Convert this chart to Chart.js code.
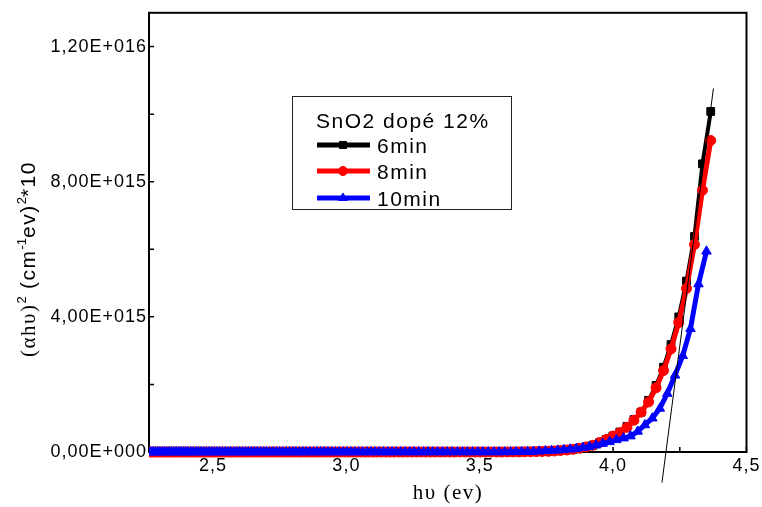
<!DOCTYPE html>
<html>
<head>
<meta charset="utf-8">
<script src="https://cdn.jsdelivr.net/npm/chart.js@4.4.1/dist/chart.umd.min.js"></script>
<style>
html,body{margin:0;padding:0;background:#fff;}
#wrap{position:relative;width:762px;height:507px;}
</style>
</head>
<body>
<div id="wrap"><canvas id="c"></canvas></div>
<script>
// Photon energy (eV) of the measured points, black/red series
const energyA = [
4.366,4.335,4.305,4.275,4.246,4.217,4.189,4.161,4.133,4.105,
4.078,4.052,4.025,3.999,3.974,3.949,3.924,3.899,3.875,3.850,
3.827,3.803,3.780,3.757,3.734,3.712,3.690,3.668,3.647,3.625,
3.604,3.583,3.563,3.542,3.522,3.502,3.483,3.463,3.444,3.425,
3.406,3.388,3.369,3.351,3.333,3.315,3.297,3.280,3.263,3.246,
3.229,3.212,3.196,3.179,3.163,3.147,3.131,3.115,3.100,3.084,
3.069,3.054,3.039,3.024,3.009,2.995,2.980,2.966,2.952,2.938,
2.924,2.910,2.897,2.883,2.870,2.857,2.844,2.831,2.818,2.805,
2.792,2.780,2.768,2.755,2.743,2.731,2.719,2.707,2.695,2.684,
2.672,2.661,2.649,2.638,2.627,2.616,2.605,2.594,2.583,2.572,
2.562,2.551,2.541,2.530,2.520,2.510,2.500,2.490,2.480,2.470,
2.460,2.450,2.441,2.431,2.422,2.412,2.403,2.394,2.384,2.375,
2.366,2.357,2.348,2.339,2.331,2.322,2.314,2.305,2.296,2.288,
2.279,2.271,2.263];

// Photon energy (eV) of the measured points, blue series
const energyB = [
4.350,4.320,4.290,4.261,4.232,4.203,4.175,4.147,4.119,4.092,
4.065,4.039,4.012,3.987,3.961,3.936,3.911,3.887,3.862,3.839,
3.815,3.792,3.769,3.746,3.723,3.701,3.679,3.657,3.636,3.615,
3.594,3.573,3.553,3.532,3.512,3.493,3.473,3.454,3.435,3.416,
3.397,3.378,3.360,3.342,3.324,3.306,3.289,3.271,3.254,3.237,
3.220,3.204,3.187,3.171,3.155,3.139,3.123,3.107,3.092,3.077,
3.061,3.046,3.031,3.017,3.002,2.988,2.973,2.959,2.945,2.931,
2.917,2.904,2.890,2.877,2.863,2.850,2.837,2.824,2.811,2.799,
2.786,2.774,2.761,2.749,2.737,2.725,2.713,2.701,2.690,2.678,
2.666,2.655,2.644,2.632,2.621,2.610,2.599,2.588,2.578,2.567,
2.556,2.546,2.535,2.525,2.515,2.505,2.495,2.485,2.475,2.465,
2.455,2.445,2.436,2.426,2.417,2.407,2.398,2.389,2.380,2.371,
2.362,2.353,2.344,2.335,2.326,2.317,2.309,2.300,2.292,2.283,
2.275,2.267,2.258];

// (alpha h nu)^2 in units of 1e15
const y6min = [
10.08,8.53,6.38,5.06,4.00,3.18,2.51,1.97,1.53,1.18,
0.96,0.76,0.59,0.47,0.37,0.28,0.20,0.15,0.11,0.08,
0.06,0.045,0.03,0.02,0.015,0.01,0.007,0.005,0.003,0.002,
0.001,0,0,0,0,0,0,0,0,0,
0,0,0,0,0,0,0,0,0,0, 0,0,0,0,0,0,0,0,0,0,
0,0,0,0,0,0,0,0,0,0, 0,0,0,0,0,0,0,0,0,0,
0,0,0,0,0,0,0,0,0,0, 0,0,0,0,0,0,0,0,0,0,
0,0,0,0,0,0,0,0,0,0, 0,0,0,0,0,0,0,0,0,0,
0,0,0,0,0,0,0,0,0,0, 0,0,0];

const y8min = [
9.22,7.75,6.14,4.84,3.83,3.05,2.41,1.90,1.48,1.18,
0.94,0.73,0.57,0.47,0.37,0.28,0.20,0.15,0.11,0.08,
0.06,0.045,0.03,0.02,0.015,0.01,0.007,0.005,0.003,0.002,
0.001,0,0,0,0,0,0,0,0,0,
0,0,0,0,0,0,0,0,0,0, 0,0,0,0,0,0,0,0,0,0,
0,0,0,0,0,0,0,0,0,0, 0,0,0,0,0,0,0,0,0,0,
0,0,0,0,0,0,0,0,0,0, 0,0,0,0,0,0,0,0,0,0,
0,0,0,0,0,0,0,0,0,0, 0,0,0,0,0,0,0,0,0,0,
0,0,0,0,0,0,0,0,0,0, 0,0,0];

const y10min = [
5.94,4.97,3.65,2.85,2.27,1.73,1.29,1.00,0.80,0.61,
0.47,0.41,0.36,0.30,0.25,0.20,0.16,0.13,0.10,0.08,
0.065,0.05,0.04,0.03,0.022,0.015,0.01,0.007,0.004,0.002,
0.001,0,0,0,0,0,0,0,0,0,
0,0,0,0,0,0,0,0,0,0, 0,0,0,0,0,0,0,0,0,0,
0,0,0,0,0,0,0,0,0,0, 0,0,0,0,0,0,0,0,0,0,
0,0,0,0,0,0,0,0,0,0, 0,0,0,0,0,0,0,0,0,0,
0,0,0,0,0,0,0,0,0,0, 0,0,0,0,0,0,0,0,0,0,
0,0,0,0,0,0,0,0,0,0, 0,0,0];

// Tangent (Tauc extrapolation) end points
const tangentX = [4.183, 4.376];
const tangentY = [-0.91, 10.76];

const seriesLabels = ['6min', '8min', '10min'];
const legendTitle = 'SnO2 dopé 12%';
const xTickValues = [2.5, 3.0, 3.5, 4.0, 4.5];
const xTickLabels = ['2,5', '3,0', '3,5', '4,0', '4,5'];
const xMinorTicks = [2.75, 3.25, 3.75, 4.25];
const yTickValues = [0, 4e15, 8e15, 1.2e16];
const yTickLabels = ['0,00E+000', '4,00E+015', '8,00E+015', '1,20E+016'];
const yMinorTicks = [2e15, 6e15, 1e16];
const xTitle = 'hυ (ev)';
const yTitleParts = ['(αhυ)', '2', ' (cm', '-1', 'ev)', '2', '*10'];

const SANS = "'Liberation Sans', Arial, sans-serif";
const SERIF = "'Liberation Serif', 'Times New Roman', serif";

const toPts = (xs, ys) => xs.map((x, i) => ({x: x, y: ys[i] * 1e15}));

const styles = [
  {color: '#000000', style: 'rect', r: 5.5, lw: 4},
  {color: '#ff0000', style: 'circle', r: 5, lw: 5},
  {color: '#0000ff', style: 'triangle', r: 5.5, lw: 5}
];

const deco = {
  id: 'deco',
  beforeDraw(chart) {
    chart.ctx.letterSpacing = '1px';
  },
  beforeDatasetsDraw(chart) {
    const {ctx, chartArea: a, scales} = chart;
    ctx.save();
    ctx.strokeStyle = '#000';
    ctx.lineWidth = 2;
    ctx.strokeRect(a.left, a.top, a.right - a.left, a.bottom - a.top);
    ctx.lineWidth = 1.5;
    ctx.beginPath();
    yTickValues.concat(yMinorTicks).forEach(v => {
      const y = scales.y.getPixelForValue(v);
      ctx.moveTo(a.left, y); ctx.lineTo(a.left + 5, y);
    });
    xTickValues.concat(xMinorTicks).forEach(v => {
      const x = scales.x.getPixelForValue(v);
      ctx.moveTo(x, a.bottom); ctx.lineTo(x, a.bottom - 5);
    });
    ctx.stroke();
    ctx.restore();
  },
  afterDraw(chart) {
    const ctx = chart.ctx;
    ctx.save();
    ctx.fillStyle = '#000';
    ctx.textBaseline = 'alphabetic';
    // x title
    ctx.letterSpacing = '1.5px';
    ctx.font = '21px ' + SERIF;
    ctx.textAlign = 'center';
    ctx.fillText(xTitle, 448, 499);
    // y title (rotated, mixed fonts)
    ctx.textAlign = 'left';
    ctx.translate(35, 357);
    ctx.rotate(-Math.PI / 2);
    let px = 0;
    yTitleParts.forEach((t, i) => {
      const sup = (i === 1 || i === 3 || i === 5);
      if (i === 0) ctx.font = '21px ' + SERIF;
      else if (sup) ctx.font = '13px ' + SANS;
      else ctx.font = '21px ' + SANS;
      ctx.letterSpacing = sup ? '0px' : '1.5px';
      ctx.fillText(t, px, sup ? -9 : 0);
      px += ctx.measureText(t).width;
    });
    ctx.restore();

    // legend box
    ctx.save();
    ctx.strokeStyle = '#222';
    ctx.lineWidth = 1;
    ctx.strokeRect(292.5, 96.5, 219, 113);
    ctx.fillStyle = '#000';
    ctx.letterSpacing = '1.5px';
    ctx.font = '21px ' + SANS;
    ctx.textAlign = 'left';
    ctx.textBaseline = 'alphabetic';
    ctx.fillText(legendTitle, 316, 128);
    const rows = [145, 171, 198];
    seriesLabels.forEach((lab, i) => {
      const s = styles[i];
      const y = rows[i];
      ctx.strokeStyle = s.color;
      ctx.lineWidth = 5;
      ctx.beginPath(); ctx.moveTo(317, y); ctx.lineTo(370, y); ctx.stroke();
      ctx.fillStyle = s.color;
      ctx.lineWidth = 1;
      Chart.helpers.drawPoint(ctx, {pointStyle: s.style, radius: s.r - 0.5, rotation: 0, borderWidth: 1}, 343, y);
      ctx.fillStyle = '#000';
      ctx.fillText(lab, 377, y + 8);
    });
    ctx.restore();
  }
};

const mk = (i, xs, ys) => ({
  label: seriesLabels[i],
  data: toPts(xs, ys),
  borderColor: styles[i].color,
  backgroundColor: styles[i].color,
  borderWidth: styles[i].lw,
  pointStyle: styles[i].style,
  pointRadius: styles[i].r,
  pointBorderWidth: 1,
  pointBorderColor: styles[i].color,
  pointBackgroundColor: styles[i].color,
  clip: {left: 0, top: 10, right: 10, bottom: 10},
  tension: 0
});

new Chart(document.getElementById('c'), {
  type: 'line',
  data: {
    datasets: [
      {label: 'tangent', data: toPts(tangentX, tangentY), borderColor: '#000', borderWidth: 1,
       pointRadius: 0, clip: false, tension: 0},
      mk(2, energyB, y10min),
      mk(1, energyA, y8min),
      mk(0, energyA, y6min)
    ]
  },
  options: {
    responsive: true,
    maintainAspectRatio: false,
    animation: false,
    events: [],
    layout: {padding: {left: 0, right: 15, top: 11, bottom: 0}},
    plugins: {legend: {display: false}, tooltip: {enabled: false}, title: {display: false}},
    scales: {
      x: {
        type: 'linear', min: 2.26, max: 4.5,
        grid: {display: false, drawTicks: false},
        border: {display: false},
        afterBuildTicks: s => { s.ticks = xTickValues.map(v => ({value: v})); },
        afterFit: s => { s.height = 55; },
        ticks: {
          autoSkip: false, maxRotation: 0, padding: 3, color: '#000',
          font: {family: SANS, size: 18},
          callback: (v, i) => xTickLabels[i]
        }
      },
      y: {
        type: 'linear', min: 0, max: 1.3e16,
        grid: {display: false, drawTicks: false},
        border: {display: false},
        afterBuildTicks: s => { s.ticks = yTickValues.map(v => ({value: v})); },
        afterFit: s => { s.width = 149; },
        ticks: {
          autoSkip: false, padding: 2, color: '#000',
          font: {family: SANS, size: 18},
          callback: (v, i) => yTickLabels[i]
        }
      }
    }
  },
  plugins: [deco]
});
</script>
</body>
</html>
